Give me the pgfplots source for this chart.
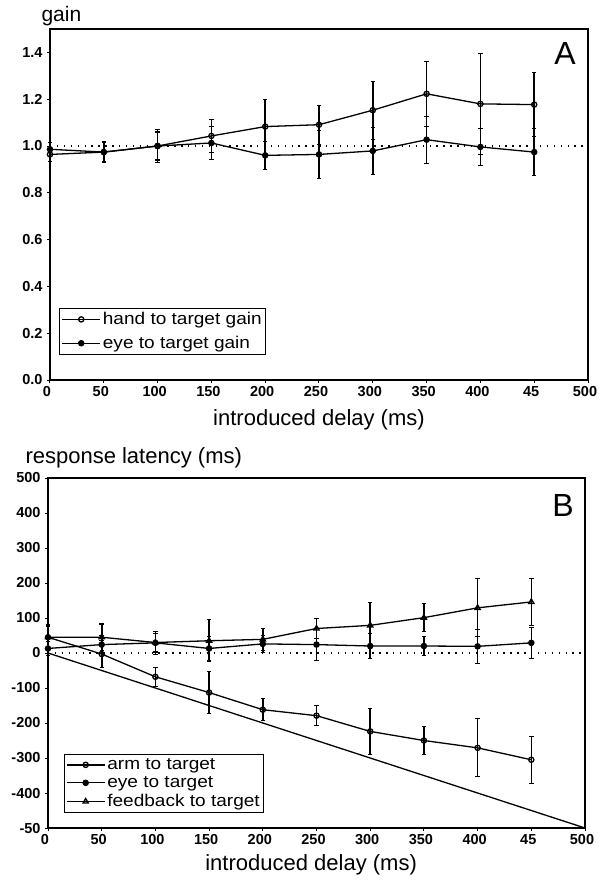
\documentclass[border=0pt]{standalone}
\usepackage{fontspec}
\setmainfont{Liberation Sans}
\newfontfamily\legfont[FakeStretch=1.12]{Liberation Sans}
\usepackage{pgfplots}
\pgfplotsset{compat=1.18}

\pgfplotsset{
  panel/.style={
    scale only axis, anchor=south west,
    xmin=0, xmax=500,
    xtick={0,50,100,150,200,250,300,350,400,450,500},
    xticklabels={0,50,100,150,200,250,300,350,400,45,500},
    tick align=outside, major tick length=3pt, tick pos=left,
    axis line style={line width=1.4pt},
    tick style={line width=1pt, black},
    ticklabel style={font=\fontsize{14.5}{16}\selectfont\bfseries},
    xticklabel style={xshift=-3pt},
    yticklabel style={xshift=-1pt},
    clip=false,
    legend cell align=left,
    legend style={draw=black, line width=0.9pt, font=\legfont\fontsize{17}{18}\selectfont,
      anchor=north west, inner sep=2pt},
    legend image code/.code={\draw[mark repeat=2,mark phase=2,##1] plot coordinates {(0pt,0pt) (19pt,0pt) (38pt,0pt)};},
  },
  ser/.style={black, line width=1.3pt, mark size=2.6pt,
    error bars/y dir=both, error bars/y explicit,
    error bars/error bar style={line width=1.6pt, solid},
    error bars/error mark options={rotate=90, line width=1.1pt, mark size=2.2pt, black}},
  refline/.style={black, line width=1.3pt, dash pattern=on 1.4pt off 5.5pt, forget plot},
}

\begin{document}
\begin{tikzpicture}
\useasboundingbox (0pt,0pt) rectangle (613pt,-881pt);

% Panel A: gain
\begin{axis}[panel, at={(50pt,-380pt)}, width=538pt, height=351pt,
    ymin=0, ymax=1.5,
    ytick={0,0.2,0.4,0.6,0.8,1.0,1.2,1.4},
    yticklabels={0.0,0.2,0.4,0.6,0.8,1.0,1.2,1.4},
    xlabel={introduced delay (ms)},
    xlabel style={at={(axis description cs:0.5,0)}, anchor=base, yshift=-45pt,
      font=\fontsize{22}{26}\selectfont},
    legend style={at={(0.017,0.205)}, row sep=6pt},
]
\addplot[refline] coordinates {(0,1.0) (500,1.0)};
\addplot[ser, mark=o, mark options={solid, fill=white}] coordinates {
  (0,0.964) +- (0,0.03)
  (50,0.974) +- (0,0.045)
  (100,1.000) +- (0,0.06)
  (150,1.043) +- (0,0.07)
  (200,1.083) +- (0,0.117)
  (250,1.091) +- (0,0.083)
  (300,1.153) +- (0,0.124)
  (350,1.223) +- (0,0.14)
  (400,1.180) +- (0,0.216)
  (450,1.177) +- (0,0.136)
};
\addplot[ser, mark=*, mark options={solid, fill=black}] coordinates {
  (0,0.986) +- (0,0.03)
  (50,0.974) +- (0,0.04)
  (100,1.000) +- (0,0.07)
  (150,1.013) +- (0,0.07)
  (200,0.960) +- (0,0.06)
  (250,0.964) +- (0,0.104)
  (300,0.979) +- (0,0.10)
  (350,1.027) +- (0,0.10)
  (400,0.996) +- (0,0.08)
  (450,0.974) +- (0,0.10)
};
\legend{hand to target gain, eye to target gain}
\end{axis}

% Panel B: response latency
\begin{axis}[panel, at={(48pt,-828pt)}, width=537pt, height=350pt,
    ymin=-500, ymax=500,
    ytick={-500,-400,-300,-200,-100,0,100,200,300,400,500},
    yticklabels={-50,-400,-300,-200,-100,0,100,200,300,400,500},
    xlabel={introduced delay (ms)},
    xlabel style={at={(axis description cs:0.49,0)}, anchor=base, yshift=-42pt,
      font=\fontsize{22}{26}\selectfont},
    legend style={at={(0.029,0.211)}, row sep=1.5pt},
]
\addplot[refline] coordinates {(0,0) (500,0)};
\addplot[black, line width=1.3pt, forget plot] coordinates {(0,0) (500,-500)};
\addplot[ser, mark=o, mark options={solid, fill=white}] coordinates {
  (0,45) +- (0,30)
  (50,-3) +- (0,38)
  (100,-68) +- (0,27)
  (150,-113) +- (0,60)
  (200,-162) +- (0,31)
  (250,-179) +- (0,29)
  (300,-224) +- (0,65)
  (350,-250) +- (0,40)
  (400,-271) +- (0,83)
  (450,-305) +- (0,67)
};
\addplot[ser, mark=*, mark options={solid, fill=black}] coordinates {
  (0,13) +- (0,20)
  (50,24) +- (0,25)
  (100,29) +- (0,32)
  (150,13) +- (0,35)
  (200,26) +- (0,25)
  (250,24) +- (0,46)
  (300,20) +- (0,35)
  (350,20) +- (0,27)
  (400,19) +- (0,48)
  (450,29) +- (0,44)
};
\addplot[ser, mark=triangle, mark size=3pt, mark options={solid, fill=white}] coordinates {
  (0,45) +- (0,35)
  (50,45) +- (0,38)
  (100,30) +- (0,27)
  (150,35) +- (0,60)
  (200,39) +- (0,31)
  (250,70) +- (0,29)
  (300,79) +- (0,65)
  (350,101) +- (0,40)
  (400,129) +- (0,83)
  (450,146) +- (0,67)
};
\legend{arm to target, eye to target, feedback to target}
\end{axis}

\node[anchor=base west, font=\fontsize{21}{24}\selectfont] at (38pt,-21pt) {gain};
\node[anchor=base west, font=\fontsize{22}{26}\selectfont] at (22pt,-463pt) {response latency (ms)};
\node[font=\fontsize{32}{36}\selectfont] at (565pt,-53pt) {A};
\node[font=\fontsize{32}{36}\selectfont] at (563pt,-505pt) {B};
\end{tikzpicture}
\end{document}
